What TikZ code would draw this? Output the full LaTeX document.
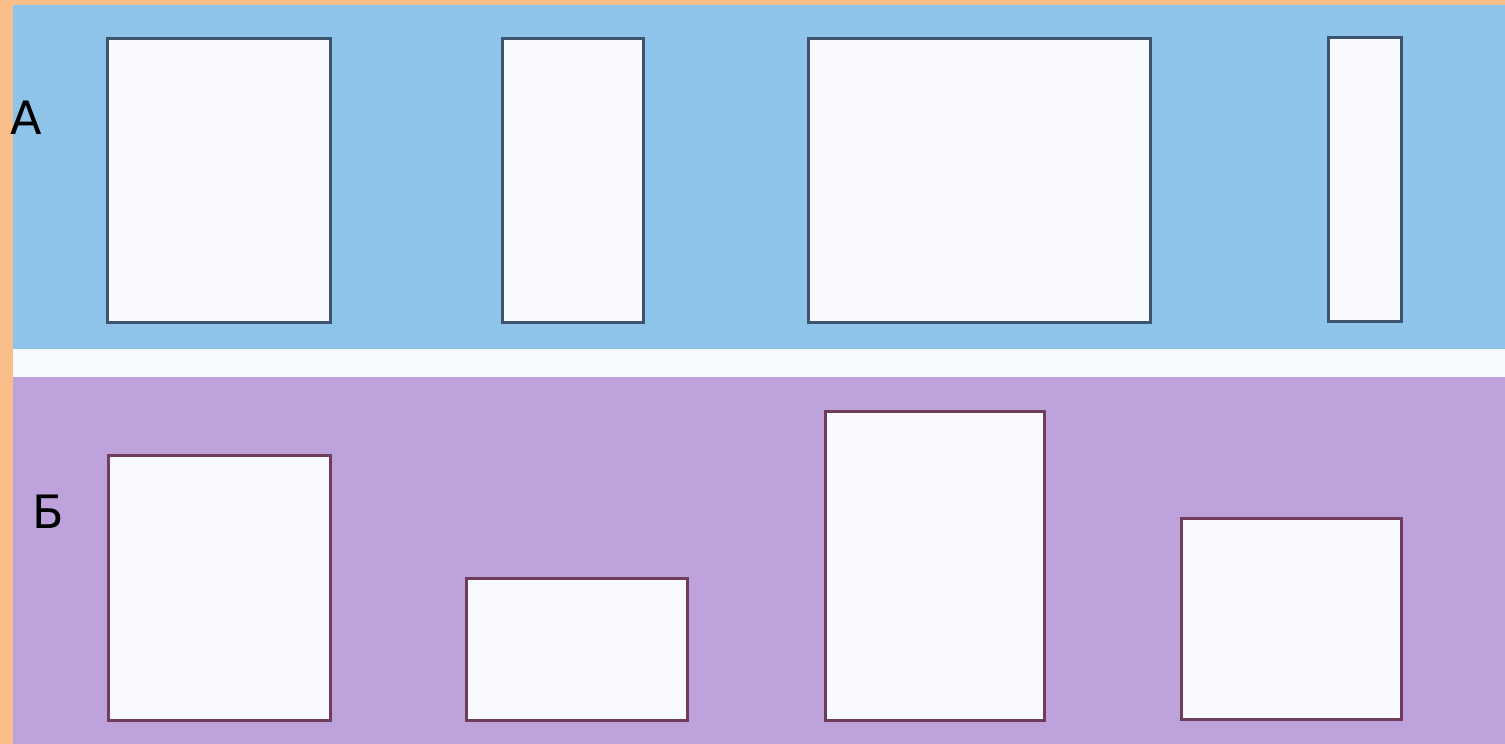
\documentclass[tikz,border=0pt]{standalone}
\usepackage{fontspec}
\newfontfamily\labfont{DejaVu Sans}
\definecolor{bord}{RGB}{249,190,138}
\definecolor{skyb}{RGB}{142,196,234}
\definecolor{lilac}{RGB}{189,162,220}
\definecolor{strip}{RGB}{247,250,252}
\definecolor{paper}{RGB}{248,250,253}
\definecolor{blueline}{RGB}{62,84,110}
\definecolor{plumline}{RGB}{112,60,92}
\begin{document}
\begin{tikzpicture}[x=1pt,y=-1pt,
  topbox/.style={draw=blueline,line width=3pt,fill=paper},
  botbox/.style={draw=plumline,line width=3pt,fill=paper},
  lab/.style={font=\labfont\fontsize{46}{50}\selectfont,text=black,inner sep=0pt}]
\useasboundingbox (0,0) rectangle (1505,744);
\fill[bord] (0,0) rectangle (1505,744);
\fill[skyb] (13,5) rectangle (1505,349);
\fill[strip] (13,349) rectangle (1505,377);
\fill[lilac] (13,377) rectangle (1505,744);
% top row
\path[topbox] (107,38) rectangle (330,322);
\path[topbox] (502,38) rectangle (643,322);
\path[topbox] (808,38) rectangle (1150,322);
\path[topbox] (1328,37) rectangle (1401,321);
% bottom row
\path[botbox] (108,455) rectangle (330,720);
\path[botbox] (466,578) rectangle (687,720);
\path[botbox] (825,411) rectangle (1044,720);
\path[botbox] (1181,518) rectangle (1401,719);
\node[lab] (la) at (26,118) {А};
\node[lab] (lb) at (48,512) {Б};
\end{tikzpicture}
\end{document}
